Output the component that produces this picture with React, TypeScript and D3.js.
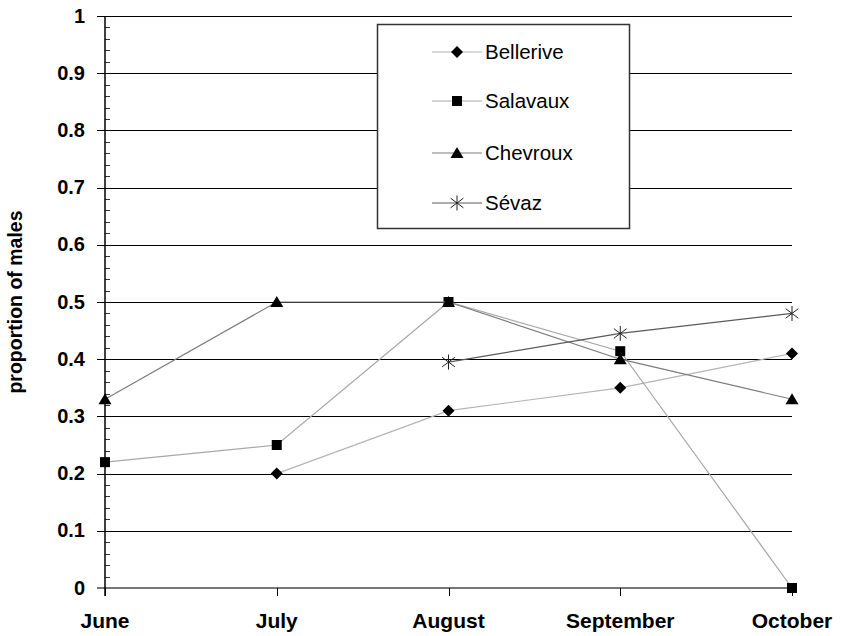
import React from "react";
import * as d3 from "d3";

const months = ["June", "July", "August", "September", "October"];
const yTicks = [0, 0.1, 0.2, 0.3, 0.4, 0.5, 0.6, 0.7, 0.8, 0.9, 1];
const bellerive: (number | null)[] = [null, 0.2, 0.31, 0.35, 0.41];
const salavaux: (number | null)[] = [0.22, 0.25, 0.5, 0.414, 0];
const chevroux: (number | null)[] = [0.33, 0.5, 0.5, 0.4, 0.33];
const sevaz: (number | null)[] = [null, null, 0.395, 0.445, 0.48];
const seriesNames = ["Bellerive", "Salavaux", "Chevroux", "Sévaz"];
const seriesColors = ["#b4b4b4", "#a8a8a8", "#7c7c7c", "#5a5a5a"];
const seriesMarkers = ["diamond", "square", "triangle", "star"];
const seriesValues = [bellerive, salavaux, chevroux, sevaz];

const FONT = "'Liberation Sans', Arial, Helvetica, sans-serif";

function Marker({ type, x, y }: { type: string; x: number; y: number }) {
  if (type === "diamond") {
    const r = 6;
    return <path d={`M${x},${y - r}L${x + r},${y}L${x},${y + r}L${x - r},${y}Z`} fill="#000" />;
  }
  if (type === "square") {
    const r = 5;
    return <rect x={x - r} y={y - r} width={2 * r} height={2 * r} fill="#000" />;
  }
  if (type === "triangle") {
    return <path d={`M${x},${y - 6}L${x + 6.5},${y + 5}L${x - 6.5},${y + 5}Z`} fill="#000" />;
  }
  const r = 7.5;
  const d = r * 0.85;
  return (
    <g stroke="#222" strokeWidth={1}>
      <line x1={x} y1={y - r} x2={x} y2={y + r} />
      <line x1={x - d} y1={y - d * 0.75} x2={x + d} y2={y + d * 0.75} />
      <line x1={x - d} y1={y + d * 0.75} x2={x + d} y2={y - d * 0.75} />
    </g>
  );
}

export default function App() {
  const W = 841;
  const H = 636;
  const x = d3.scalePoint<string>().domain(months).range([105, 792]);
  const y = d3.scaleLinear().domain([0, 1]).range([588, 16]);
  const minor = d3.range(0, 1.0001, 0.02).filter((v) => Math.abs(v * 10 - Math.round(v * 10)) > 1e-6);

  const line = d3
    .line<number | null>()
    .defined((d) => d !== null)
    .x((_, i) => x(months[i]) as number)
    .y((d) => y(d as number));

  const legendRows = [52, 101, 153, 203];

  return (
    <svg width={W} height={H} style={{ position: "absolute", left: 0, top: 0, background: "#fff" }} fontFamily={FONT}>
      <rect x={0} y={0} width={W} height={H} fill="#fff" />
      {/* gridlines */}
      {yTicks.filter((t) => t > 0).map((t) => (
        <line key={t} x1={97} x2={792} y1={Math.round(y(t)) + 0.5} y2={Math.round(y(t)) + 0.5} stroke="#000" strokeWidth={1} />
      ))}
      {/* minor ticks */}
      {minor.map((t, i) => (
        <line key={i} x1={105} x2={110} y1={Math.round(y(t)) + 0.5} y2={Math.round(y(t)) + 0.5} stroke="#333" strokeWidth={1} />
      ))}
      {/* x axis */}
      <line x1={97} x2={792} y1={588} y2={588} stroke="#777" strokeWidth={2} />
      {months.map((m) => (
        <line key={m} x1={Math.round(x(m) as number) + 0.5} x2={Math.round(x(m) as number) + 0.5} y1={588} y2={596} stroke="#000" strokeWidth={1} />
      ))}
      {/* y axis */}
      <line x1={105} x2={105} y1={16} y2={596} stroke="#000" strokeWidth={1.5} />
      {/* y labels */}
      {yTicks.map((t) => (
        <text key={t} x={85} y={y(t) + 6.5} textAnchor="end" fontSize={20} fontWeight="bold" fill="#000">
          {String(t)}
        </text>
      ))}
      {/* x labels */}
      {months.map((m) => (
        <text key={m} x={x(m) as number} y={628} textAnchor="middle" fontSize={21} fontWeight="bold" fill="#000">
          {m}
        </text>
      ))}
      {/* y title */}
      <text transform={`translate(22,302) rotate(-90)`} textAnchor="middle" fontSize={19.5} fontWeight="bold" fill="#000">
        proportion of males
      </text>
      {/* series */}
      {seriesValues.map((vals, si) => (
        <g key={si}>
          <path d={line(vals) || ""} fill="none" stroke={seriesColors[si]} strokeWidth={1.2} />
          {vals.map((v, i) =>
            v === null ? null : <Marker key={i} type={seriesMarkers[si]} x={x(months[i]) as number} y={y(v)} />
          )}
        </g>
      ))}
      {/* legend */}
      <rect x={377.5} y={24.5} width={252} height={204} fill="#fff" stroke="#333" strokeWidth={1.5} />
      {seriesNames.map((n, i) => (
        <g key={n}>
          <line x1={432} x2={482} y1={legendRows[i]} y2={legendRows[i]} stroke={seriesColors[i]} strokeWidth={1.2} />
          <Marker type={seriesMarkers[i]} x={457} y={legendRows[i]} />
          <text x={485} y={legendRows[i] + 7} fontSize={20.5} fill="#000">
            {n}
          </text>
        </g>
      ))}
    </svg>
  );
}
